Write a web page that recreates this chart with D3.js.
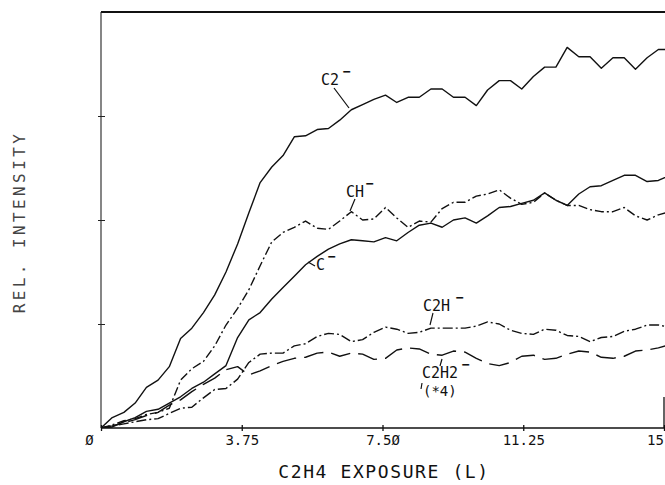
<!DOCTYPE html>
<html>
<head>
<meta charset="utf-8">
<script src="https://cdn.jsdelivr.net/npm/d3@7"></script>
<style>
  body { margin: 0; background: #fff; }
  text { font-family: "DejaVu Sans Mono", "Liberation Mono", monospace; fill: #111; }
</style>
</head>
<body>
<div id="chart"></div>
<script>
// exposure (L) of each sample
var exposure = [0, 0.30, 0.61, 0.91, 1.21, 1.52, 1.82, 2.12, 2.42, 2.73, 3.03, 3.33, 3.64, 3.94, 4.24,
  4.55, 4.85, 5.15, 5.45, 5.76, 6.06, 6.36, 6.67, 6.97, 7.27, 7.58, 7.88, 8.18, 8.48, 8.79, 9.09,
  9.39, 9.70, 10.00, 10.30, 10.61, 10.91, 11.21, 11.52, 11.82, 12.12, 12.42, 12.73, 13.03, 13.33,
  13.64, 13.94, 14.24, 14.55, 14.85, 15.15];

// relative intensity, one array per ion
var c2 = [0, 0.10, 0.15, 0.24, 0.39, 0.46, 0.59, 0.86, 0.96, 1.11, 1.28, 1.50, 1.77, 2.07, 2.36,
  2.51, 2.62, 2.80, 2.81, 2.87, 2.88, 2.96, 3.06, 3.11, 3.16, 3.20, 3.13, 3.18, 3.18, 3.26, 3.26,
  3.18, 3.18, 3.10, 3.25, 3.34, 3.34, 3.26, 3.38, 3.47, 3.47, 3.66, 3.57, 3.57, 3.46, 3.56, 3.56,
  3.45, 3.56, 3.64, 3.64];
var ch = [0, 0.03, 0.07, 0.09, 0.13, 0.15, 0.19, 0.46, 0.57, 0.64, 0.79, 0.99, 1.15, 1.33, 1.56,
  1.79, 1.88, 1.93, 1.99, 1.92, 1.91, 1.99, 2.08, 2.00, 2.01, 2.12, 2.02, 1.93, 1.99, 1.98, 2.11,
  2.17, 2.17, 2.23, 2.25, 2.29, 2.21, 2.15, 2.17, 2.26, 2.19, 2.14, 2.14, 2.10, 2.08, 2.08, 2.12,
  2.04, 2.00, 2.05, 2.08];
var cm = [0, 0.01, 0.06, 0.10, 0.16, 0.18, 0.24, 0.30, 0.38, 0.44, 0.52, 0.60, 0.87, 1.04, 1.11,
  1.24, 1.35, 1.46, 1.57, 1.65, 1.72, 1.77, 1.81, 1.80, 1.79, 1.83, 1.80, 1.88, 1.95, 1.97, 1.93,
  2.00, 2.02, 1.97, 2.04, 2.12, 2.13, 2.16, 2.19, 2.26, 2.19, 2.14, 2.25, 2.32, 2.33, 2.38, 2.43,
  2.43, 2.37, 2.38, 2.43];
var c2h = [0, 0.02, 0.04, 0.06, 0.08, 0.09, 0.14, 0.19, 0.20, 0.29, 0.37, 0.38, 0.47, 0.63, 0.71,
  0.72, 0.72, 0.79, 0.81, 0.88, 0.91, 0.90, 0.83, 0.85, 0.92, 0.97, 0.95, 0.91, 0.92, 0.96, 0.96,
  0.96, 0.96, 0.98, 1.02, 1.00, 0.94, 0.91, 0.90, 0.95, 0.94, 0.89, 0.88, 0.83, 0.87, 0.88, 0.93,
  0.95, 0.99, 0.99, 0.97];
var c2h2 = [0, 0.02, 0.05, 0.08, 0.12, 0.15, 0.22, 0.27, 0.35, 0.42, 0.48, 0.56, 0.59, 0.51, 0.55,
  0.60, 0.64, 0.67, 0.68, 0.72, 0.73, 0.69, 0.72, 0.71, 0.66, 0.67, 0.75, 0.77, 0.76, 0.71, 0.70,
  0.74, 0.73, 0.67, 0.62, 0.60, 0.63, 0.69, 0.70, 0.66, 0.67, 0.71, 0.74, 0.73, 0.68, 0.67, 0.69,
  0.74, 0.75, 0.77, 0.80];

var xTicks = [0, 3.75, 7.5, 11.25, 15];
var xTickLabels = ["Ø", "3.75", "7.5Ø", "11.25", "15"];
var yTicks = [1, 2, 3];

var w = 665, h = 485;
var mLeft = 101, mRight = 664, mTop = 12, mBottom = 428;

var svg = d3.select("#chart").append("svg")
    .attr("width", w)
    .attr("height", h);

var x = d3.scaleLinear().domain([0, 15]).range([mLeft, mRight]);
var y = d3.scaleLinear().domain([0, 4]).range([mBottom, mTop]);

svg.append("clipPath").attr("id", "plotclip")
  .append("rect")
    .attr("x", mLeft).attr("y", mTop)
    .attr("width", w - mLeft).attr("height", mBottom - mTop);

// frame: top border, left axis, bottom axis, piece of right axis
svg.append("line")
    .attr("x1", mLeft).attr("x2", w).attr("y1", mTop).attr("y2", mTop)
    .attr("stroke", "#111").attr("stroke-width", 1.8);

var yAxis = d3.axisLeft(y).tickValues(yTicks).tickSize(3).tickFormat("");
svg.append("g")
    .attr("transform", "translate(" + mLeft + ",0)")
    .call(yAxis)
    .call(function(g) {
      g.select(".domain").attr("d", "M0," + mTop + "V" + mBottom).attr("stroke", "#222").attr("stroke-width", 1.1);
      g.selectAll(".tick line").attr("x1", -3).attr("x2", 4).attr("stroke", "#222");
    });

var xAxis = d3.axisBottom(x).tickValues(xTicks).tickSize(3).tickFormat(function(d, i) { return xTickLabels[i]; });
svg.append("g")
    .attr("transform", "translate(0," + mBottom + ")")
    .call(xAxis)
    .call(function(g) {
      g.select(".domain").attr("d", "M" + mLeft + ",0H" + w).attr("stroke", "#111").attr("stroke-width", 1.5);
      g.selectAll(".tick line").attr("y1", -3).attr("y2", 3).attr("stroke", "#111").attr("stroke-width", 1.3);
      g.selectAll(".tick text")
        .attr("y", 7)
        .attr("font-size", "14px")
        .attr("font-family", "DejaVu Sans Mono")
        .attr("fill", "#111")
        .attr("dx", function(d, i) { return i == 0 ? -12 : (i == 4 ? -9 : 0); });
    });

svg.append("line")
    .attr("x1", mRight).attr("x2", mRight).attr("y1", 397).attr("y2", mBottom)
    .attr("stroke", "#111").attr("stroke-width", 1.3);

// axis titles
svg.append("text")
    .attr("x", 384).attr("y", 478)
    .attr("text-anchor", "middle")
    .attr("font-size", "18px")
    .attr("letter-spacing", "1.6px")
    .text("C2H4 EXPOSURE (L)");

svg.append("text")
    .attr("transform", "translate(25,222) rotate(-90)")
    .attr("text-anchor", "middle")
    .attr("font-size", "16px")
    .attr("font-weight", "200")
    .attr("letter-spacing", "3.4px")
    .style("fill", "#444")
    .text("REL. INTENSITY");

// curves
var series = [
  {values: c2, dash: null},
  {values: ch, dash: "9,3,2,3"},
  {values: cm, dash: null},
  {values: c2h, dash: "10,3,2,3"},
  {values: c2h2, dash: "20,8"}
];

var line = d3.line()
    .x(function(d) { return x(d[0]); })
    .y(function(d) { return y(d[1]); });

svg.append("g")
    .attr("clip-path", "url(#plotclip)")
  .selectAll("path")
    .data(series)
    .enter()
    .append("path")
    .attr("d", function(s) { return line(s.values.map(function(v, i) { return [exposure[i], v]; })); })
    .attr("fill", "none")
    .attr("stroke", "#111")
    .attr("stroke-width", 1.4)
    .attr("stroke-linejoin", "round")
    .attr("stroke-dasharray", function(s) { return s.dash; });

// curve labels with their leader lines
var labels = [
  {t: "C2", x: 321, y: 85, sx: 343},
  {t: "CH", x: 346, y: 197, sx: 366},
  {t: "C", x: 316, y: 270, sx: 328},
  {t: "C2H", x: 423, y: 311, sx: 456},
  {t: "C2H2", x: 422, y: 378, sx: 462}
];

labels.forEach(function(l) {
  svg.append("text")
      .attr("x", l.x).attr("y", l.y)
      .attr("font-size", "15px")
      .text(l.t);
  svg.append("text")
      .attr("x", l.sx).attr("y", l.y - 9)
      .attr("font-size", "13px")
      .attr("font-weight", "bold")
      .text("−");
});

svg.append("text")
    .attr("x", 423).attr("y", 396)
    .attr("font-size", "14px")
    .text("(*4)");

var leaders = [
  [334, 88, 349, 108],
  [355, 199, 350, 211],
  [308, 262, 315, 266],
  [433, 313, 430, 325],
  [442, 359, 440, 366],
  [422, 383, 421, 389]
];

svg.selectAll(".leader")
    .data(leaders)
    .enter()
    .append("line")
    .attr("class", "leader")
    .attr("x1", function(d) { return d[0]; })
    .attr("y1", function(d) { return d[1]; })
    .attr("x2", function(d) { return d[2]; })
    .attr("y2", function(d) { return d[3]; })
    .attr("stroke", "#111")
    .attr("stroke-width", 1.2);
</script>
</body>
</html>
